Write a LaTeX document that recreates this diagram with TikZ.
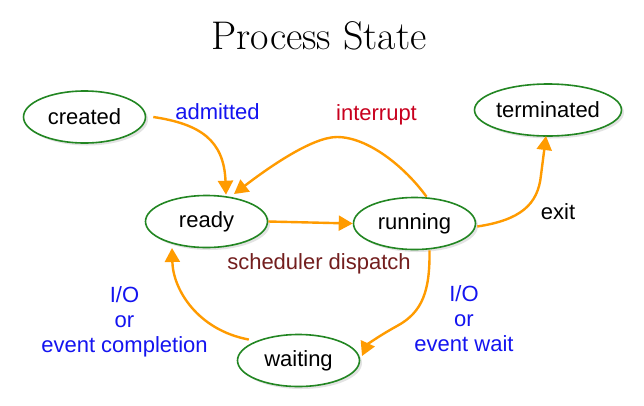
\documentclass[tikz,border=0pt]{standalone}
\usepackage{fontspec}
\setsansfont{Liberation Sans}
\usetikzlibrary{shapes.geometric,arrows.meta,shadows}
\definecolor{stgreen}{RGB}{34,134,34}
\definecolor{arrorange}{RGB}{255,155,0}
\definecolor{lblblue}{RGB}{20,20,240}
\definecolor{lblred}{RGB}{200,0,30}
\definecolor{lblmaroon}{RGB}{115,30,30}
\tikzset{
  state/.style={ellipse, draw=stgreen, line width=1.6pt, fill=white,
    minimum width=122pt, minimum height=52pt, inner sep=0pt,
    font=\sffamily\fontsize{22}{25}\selectfont,
    drop shadow={opacity=0.22, shadow xshift=2.5pt, shadow yshift=-2.5pt}},
  trans/.style={draw=arrorange, line width=2.4pt,
    -{Triangle[length=14pt,width=15pt]}},
  lbl/.style={font=\sffamily\fontsize{22}{25}\selectfont, align=center, inner sep=0pt}
}
\begin{document}
\begin{tikzpicture}[x=1pt,y=-1pt]
\fill[white] (0,0) rectangle (644,405);
\useasboundingbox (0,0) rectangle (644,405);
\node[anchor=base, font=\fontsize{40}{42}\selectfont] (title) at (319,49) {Process State};
\node[state] (created) at (84.5,117) {created};
\node[state] (terminated) at (548,110) {terminated};
\node[state] (ready) at (206.5,221.5) {ready};
\node[state] (running) at (414.5,223.5) {running};
\node[state] (waiting) at (298.5,360.5) {waiting};
% transitions
\draw[trans] (created.east) ++(7,0) coordinate (c1)
  .. controls (200,124) and (224,140) .. (ready.north -| 226,0);
\draw[trans] (running.north) ++(12,0) coordinate (r1)
  .. controls (405,167) and (368,137) .. (337,137)
  .. controls (312,137) and (268,168) .. (234,194);
\draw[trans] (ready.east) -- (running.west);
\draw[trans] (running.east) ++(1,3) coordinate (r2)
  .. controls (520,220) and (538,205) .. (541,175)
  -- (546,136);
\draw[trans] (running.south) ++(15,0) coordinate (r3)
  .. controls (430,290) and (423,312) .. (397,326)
  .. controls (377,337) and (367,345) .. (362,356);
\draw[trans] (waiting.north west) ++(-6,-2) coordinate (w1)
  .. controls (198,330) and (173,290) .. (172,248);
% labels
\node[lbl, text=lblblue] (ladm) at (217.5,112) {admitted};
\node[lbl, text=lblred] (lint) at (376.5,115) {interrupt};
\node[lbl] (lexit) at (558,212) {exit};
\node[lbl, text=lblmaroon] (lsch) at (319,264) {scheduler dispatch};
\node[lbl, text=lblblue] (lcomp) at (124.5,322) {I/O\\or\\event completion};
\node[lbl, text=lblblue] (lwait) at (464,319) {I/O\\or\\event wait};
\end{tikzpicture}
\end{document}
